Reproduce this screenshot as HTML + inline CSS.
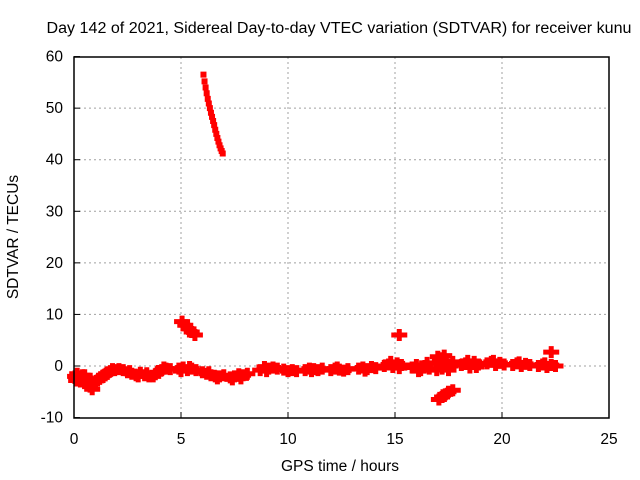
<!DOCTYPE html>
<html><head><meta charset="utf-8"><style>
body{margin:0;background:#fff;}
svg{display:block;font-family:"Liberation Sans",sans-serif;}
</style></head><body>
<svg id="chart" width="640" height="480">
<rect width="640" height="480" fill="#fff"/>
<text x="339" y="33" font-size="15.5" text-anchor="middle" textLength="585" lengthAdjust="spacingAndGlyphs">Day 142 of 2021, Sidereal Day-to-day VTEC variation (SDTVAR) for receiver kunu</text>
<text x="340" y="471" font-size="15.5" text-anchor="middle">GPS time / hours</text>
<text x="18" y="237" font-size="15.5" text-anchor="middle" transform="rotate(-90 18 237)">SDTVAR / TECUs</text>
<g id="grid"></g>
<g id="ticks"></g>
<g id="marks"></g>
<rect x="74" y="57" width="535" height="361" fill="none" stroke="#000" stroke-width="1.5"/>
</svg>
<script>
const xTicks=[0,5,10,15,20,25];
const yTicks=[-10,0,10,20,30,40,50,60];
const times=[0.05,0.15,0.25,0.35,0.45,0.55,0.65,0.75,0.85,0.7,0.5,0.3,0.2,0.1,0.4,0.6,0.8,
1.1,1.3,1.5,1.7,1.9,2.1,2.3,1.2,1.4,1.6,1.8,
2.5,2.7,2.9,3.1,3.3,3.5,2.6,3.0,3.4,
3.7,3.9,4.1,4.3,4.5,3.8,4.2,
4.9,5.1,5.3,5.5,5.7,5.0,5.4,
6.0,6.2,6.4,6.6,6.8,7.0,6.3,6.7,
7.3,7.5,7.7,7.9,8.1,7.4,7.8,
8.7,8.9,9.1,9.3,9.5,9.0,
9.8,10.0,10.2,10.4,
10.8,11.0,11.2,11.4,11.6,11.1,
12.0,12.2,12.4,12.6,12.8,12.3,
13.3,13.5,13.7,13.9,14.1,13.6,
14.5,14.7,14.9,15.1,15.3,14.8,15.2,
15.8,16.0,16.2,16.4,16.6,16.1,16.5,
16.9,17.1,17.3,17.5,17.7,17.2,17.0,17.4,17.6,17.3,16.95,
18.1,18.3,18.5,18.7,18.9,18.4,18.8,
19.3,19.5,19.7,19.9,20.1,19.6,
20.5,20.7,20.9,21.1,21.3,20.8,
21.7,21.9,22.1,22.3,22.5,22.0,
15.2,
17.05,17.2,17.35,17.5,17.7,
22.3,
5.05,5.2,5.35,5.5,5.65,
6.05,6.1,6.15,6.2,6.25,6.3,6.35,6.4,6.45,6.5,6.55,6.6,6.65,6.7,6.75,6.8,6.85,6.9,6.95];
const values=[-2,-1.5,-2.5,-2,-3,-2.5,-3.5,-4,-4.5,-2.5,-1.8,-3,-2.2,-2.8,-1.8,-3,-3,
-2.8,-2.2,-1.5,-1,-0.8,-0.6,-0.8,-2.5,-1.8,-1.2,-0.6,
-1.2,-1.5,-1.8,-1.3,-1.8,-2,-1.0,-2.0,-1.4,
-2,-1.2,-0.8,-0.5,-0.6,-1.6,-0.3,
-0.5,-0.3,-0.8,-0.5,-0.8,-1.0,-0.2,
-1.2,-1.5,-1.8,-2.0,-2.0,-1.8,-1.2,-2.4,
-2.2,-2,-1.6,-1.8,-1.5,-2.6,-2.4,
-0.8,-0.2,-0.5,-0.3,-0.5,-1.0,
-0.7,-1,-0.8,-1,
-0.8,-0.5,-0.6,-0.8,-0.5,-1.0,
-0.8,-0.5,-0.7,-0.9,-0.6,-0.3,
-0.5,-0.3,-0.6,-0.2,-0.4,-0.9,
0,0.3,-0.2,0.5,0.2,0.8,-0.4,
-0.3,0.2,-0.8,0,-0.5,-1.0,0.6,
0.5,1.5,0.2,-0.8,0.8,-0.5,1.8,1,0,2.0,-0.8,
0.2,0.5,-0.3,0.8,0.3,1.0,-0.2,
0.5,0.8,0.2,0.6,0.3,1.0,
0.2,0.5,0,0.4,0.2,0.7,
0,0.3,-0.2,0.2,0,0.5,
6.0,
-6.5,-6.0,-5.5,-5.0,-4.7,
2.7,
8.6,7.9,7.2,6.6,6.0,
56.5,55.2,54,52.9,51.8,50.9,50,49.1,48.3,47.5,46.7,45.8,45,44.2,43.5,42.8,42.2,41.7,41.2];
const X=t=>74+t*21.4, Y=v=>366-v*5.157;
const NS='http://www.w3.org/2000/svg';
const grid=document.getElementById('grid'),ticks=document.getElementById('ticks'),marks=document.getElementById('marks');
function mk(tag,attrs,parent){const e=document.createElementNS(NS,tag);for(const k in attrs)e.setAttribute(k,attrs[k]);parent.appendChild(e);return e;}
xTicks.forEach(t=>{
 if(t>0&&t<25){const g=mk('line',{x1:X(t),x2:X(t),y1:57,y2:418,stroke:'#a0a0a0','stroke-dasharray':'2,3'},grid);
 
 }
 const a=mk('line',{x1:X(t),x2:X(t),y1:418,y2:412,stroke:'#000'},ticks);
 
 
 const l=mk('text',{x:X(t),y:444,'font-size':15.5,'text-anchor':'middle'},ticks);l.textContent=t;
 
 
});
yTicks.forEach(v=>{
 if(v>-10&&v<60){const g=mk('line',{x1:74,x2:609,y1:Y(v),y2:Y(v),stroke:'#a0a0a0','stroke-dasharray':'2,3'},grid);
 
 }
 const a=mk('line',{x1:74,x2:80,y1:Y(v),y2:Y(v),stroke:'#000'},ticks);
 
 
 const l=mk('text',{x:63,y:Y(v)+5,'font-size':15.5,'text-anchor':'end'},ticks);l.textContent=v;
 
 
});
times.forEach((t,i)=>{
 const x=X(t),y=Y(values[i]);
 const big=values[i]>10;
 const hw=big?3:8, hh=big?3:6;
 const p=mk('path',{d:`M${x-hw},${y}H${x+hw}M${x},${y-hh}V${y+hh}`,stroke:'#ff0000','stroke-width':big?6:5},marks);
 
 
});
</script>
</body></html>
